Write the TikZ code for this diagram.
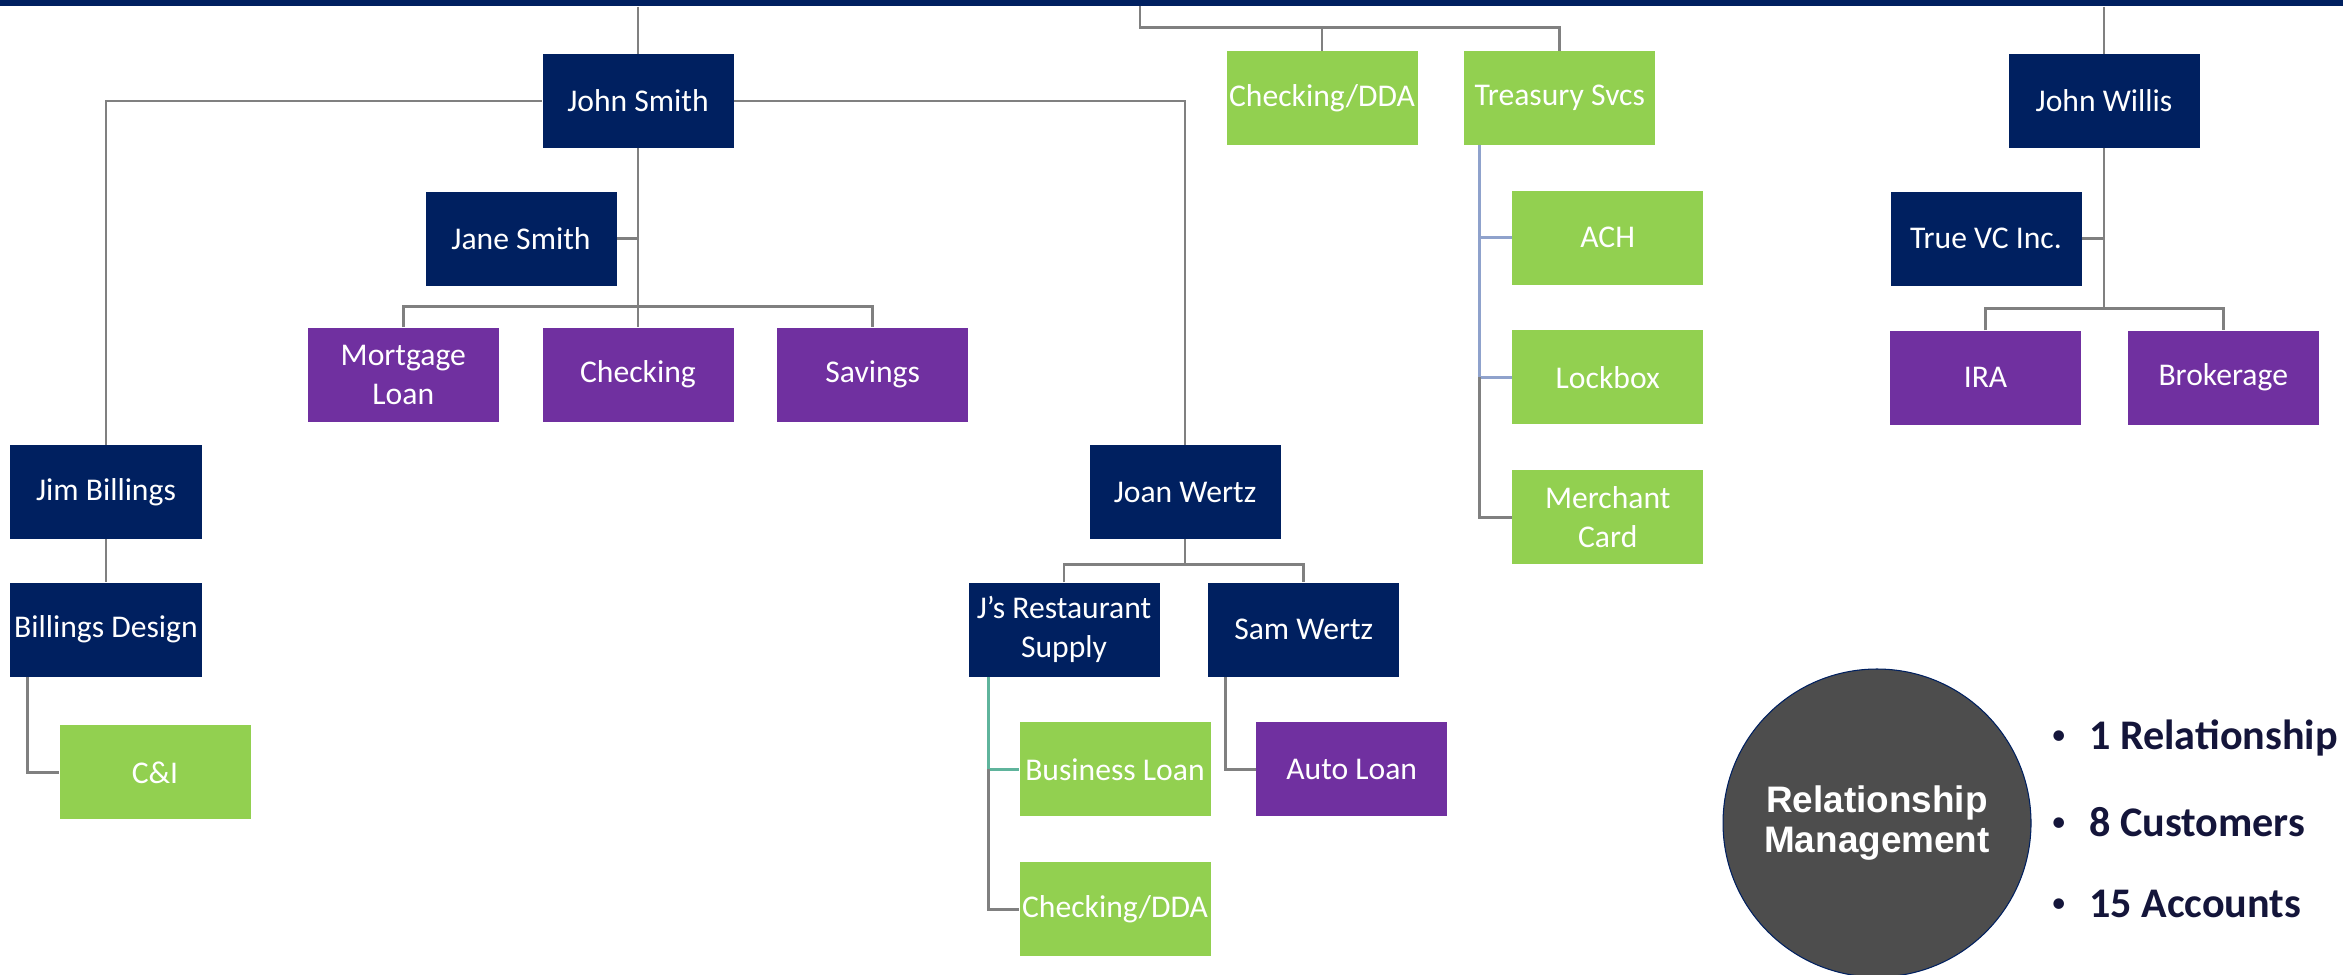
\documentclass[tikz,border=0pt]{standalone}
\usepackage{fontspec}
\setmainfont{Carlito}
\newfontfamily\arialfont{Liberation Sans}
\usepackage{tikz}
\usetikzlibrary{positioning}

\definecolor{navyblue}{HTML}{002060}
\definecolor{bizgreen}{HTML}{92D050}
\definecolor{retailpurple}{HTML}{7030A0}
\definecolor{linegray}{HTML}{808080}
\definecolor{lineblue}{HTML}{8FA2CC}
\definecolor{lineteal}{HTML}{5FB49C}
\definecolor{circgray}{HTML}{4D4D4D}
\definecolor{bullettext}{HTML}{14153A}

\newcommand{\smalldot}{\raisebox{0.12em}{\mdseries\fontsize{17}{20}\selectfont •}\hspace{0.46cm}}

\tikzset{
  customer/.style = {
    rectangle,
    minimum width=3.82cm,
    minimum height=1.88cm,
    inner sep=0pt,
    align=center,
    text=white,
    fill=navyblue,
    font=\fontsize{18}{22}\selectfont
  },
  product_biz/.style = {
    customer,
    fill=bizgreen
  },
  product_retail/.style = {
    customer,
    fill=retailpurple
  },
  link/.style = {
    line width=1.6pt,
    draw=linegray
  },
  link_blue/.style = {
    link,
    draw=lineblue
  },
  link_teal/.style = {
    link,
    draw=lineteal
  },
  bullet_item/.style = {
    anchor=west,
    inner sep=0pt,
    text=bullettext,
    font=\fontsize{24}{28}\selectfont\bfseries
  }
}

\begin{document}
\begin{tikzpicture}[
  node distance=0.86cm and 0.86cm % (vertical) and (horizontal)
]
\useasboundingbox (0,0) rectangle (46.86,-19.48);

% ===== Top bar =====
\node (bar) [fill=navyblue, minimum width=46.86cm, minimum height=0.12cm,
  inner sep=0pt, anchor=north west] at (0,0) {};
\coordinate (hub) at (22.8,-0.12);

% ===== John Smith (left tree) =====
\node (jsmith) [customer] at (12.76,-2.02) {John Smith};
\node (jane) [customer, below=of jsmith, xshift=-2.34cm] {Jane Smith};
\node (chk) [product_retail, below=3.58cm of jsmith] {Checking};
\node (mort) [product_retail, left=of chk] {Mortgage\\Loan};
\node (sav) [product_retail, right=of chk] {Savings};

\node (jbill) [customer] at (2.12,-9.84) {Jim Billings};
\node (bd) [customer, below=of jbill] {Billings Design};
\node (ci) [product_biz, below=0.96cm of bd, xshift=0.98cm] {C\&I};

\node (jwertz) [customer] at (23.70,-9.84) {Joan Wertz};
\node (jrs) [customer, below=of jwertz, xshift=-2.42cm] {J’s Restaurant\\Supply};
\node (sam) [customer, right=0.96cm of jrs] {Sam Wertz};
\node (biz) [product_biz, below=0.9cm of jrs, xshift=1.02cm] {Business Loan};
\node (chk2) [product_biz, below=0.9cm of biz] {Checking/DDA};
\node (auto) [product_retail, right=0.9cm of biz] {Auto Loan};

% ===== Treasury (middle) =====
\node (chkdda) [product_biz] at (26.44,-1.96) {Checking/DDA};
\node (tsv) [product_biz, right=0.92cm of chkdda] {Treasury Svcs};
\node (ach) [product_biz, below=0.9cm of tsv, xshift=0.96cm] {ACH};
\node (lock) [product_biz, below=0.9cm of ach] {Lockbox};
\node (merch) [product_biz, below=0.9cm of lock] {Merchant\\Card};

% ===== John Willis (right tree) =====
\node (jwillis) [customer] at (42.08,-2.02) {John Willis};
\node (tvc) [customer, below=of jwillis, xshift=-2.36cm] {True VC Inc.};
\node (ira) [product_retail, below=3.64cm of jwillis, xshift=-2.37cm] {IRA};
\node (brok) [product_retail, right=0.92cm of ira] {Brokerage};

% ===== Summary =====
\node (rm) [circle, fill=circgray, draw=navyblue, line width=0.6pt,
  minimum size=6.16cm, align=center, text=white,
  font=\arialfont\fontsize{21}{23}\selectfont\bfseries]
  at (37.54,-16.46) {Relationship\\Management};
\node (b1) [bullet_item] at (41.02,-14.76) {\smalldot 1 Relationship};
\node (b2) [bullet_item] at (41.02,-16.44) {\smalldot 8 Customers};
\node (b3) [bullet_item] at (41.02,-18.08) {\smalldot 15 Accounts};

% ===== Connectors =====
\draw [link] (bar.south -| jsmith.north) -- (jsmith.north);
\draw [link] (jsmith.west) -| (jbill.north);
\draw [link] (jsmith.east) -| (jwertz.north);
\draw [link] (jsmith.south) -- (chk.north);
\draw [link] (jane.east) -- (jane.east -| jsmith.south);
\draw [link] (mort.north) -- ++(0,0.42) -| (sav.north);

\draw [link] (jbill) -- (bd);
\draw [link] ([xshift=0.35cm]bd.south west) |- (ci.west);

\coordinate (jwfork) at ([yshift=0.36cm]jrs.north);
\draw [link] (jwertz.south) -- (jwertz.south |- jwfork);
\draw [link] (jrs.north) -- (jwfork) -| (sam.north);
\coordinate (jrsline) at ([xshift=0.41cm]jrs.south west);
\draw [link_teal] (jrsline) |- (biz.west);
\draw [link] (jrsline |- biz.west) |- (chk2.west);
\draw [link] ([xshift=0.35cm]sam.south west) |- (auto.west);

\draw [link] (hub) |- ([yshift=0.46cm]tsv.north) -- (tsv.north);
\draw [link] (chkdda.north) -- ([yshift=0.46cm]chkdda.north);
\coordinate (tsvline) at ([xshift=0.31cm]tsv.south west);
\draw [link_blue] (tsvline) |- (ach.west);
\draw [link_blue] (tsvline) |- (lock.west);
\draw [link] (tsvline |- lock.west) |- (merch.west);

\draw [link] (bar.south -| jwillis.north) -- (jwillis.north);
\draw [link] (jwillis.south) -- ([yshift=0.44cm]jwillis.south |- ira.north);
\draw [link] (tvc.east) -- (tvc.east -| jwillis.south);
\draw [link] (ira.north) -- ++(0,0.44) -| (brok.north);

\end{tikzpicture}
\end{document}
